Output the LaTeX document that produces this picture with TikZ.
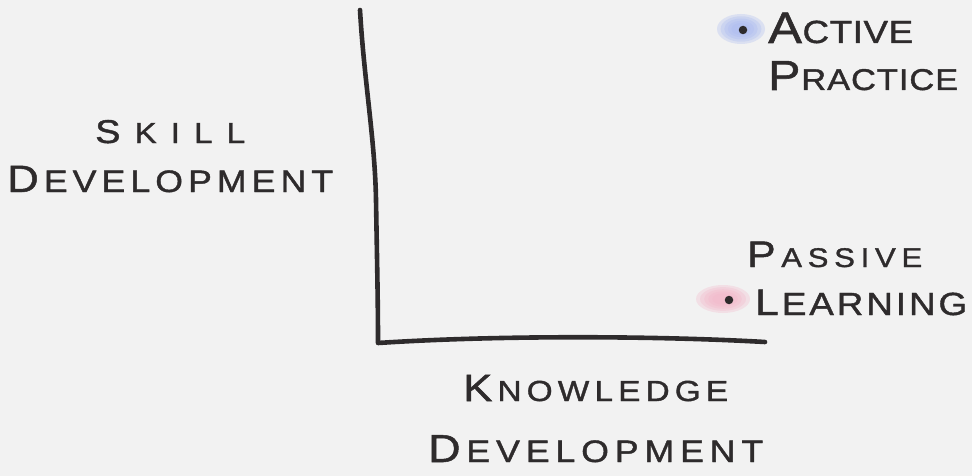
\documentclass[tikz,border=0pt]{standalone}
\usepackage{fontspec}
\setmainfont[FakeStretch=1.15, FakeBold=1.3]{Liberation Sans}
\definecolor{paper}{HTML}{F2F2F2}
\definecolor{marker}{HTML}{2E2B2C}
\definecolor{blueblob}{HTML}{A9B9F0}
\definecolor{pinkblob}{HTML}{F3B5C8}

% A word in hand-lettered small caps: bigger first letter,
% the remaining letters spread out to fill a given width.
\ExplSyntaxOn
\NewDocumentCommand\spreadword{m m m m m}{%
  \makebox[#1][s]{\fontsize{#2}{#2}\selectfont #4
    \fontsize{#3}{#3}\selectfont
    \tl_map_inline:nn {#5}{\hfil ##1}}}
\ExplSyntaxOff

\tikzset{
  axisline/.style={draw=marker, line width=4.6pt, line cap=round, line join=round},
  lettering/.style={anchor=base west, inner sep=0pt, text=marker},
  dotmark/.style={circle, fill=marker, inner sep=0pt, minimum size=8.5pt},
}

\begin{document}
\begin{tikzpicture}[x=1pt, y=-1pt]
  \fill[paper] (0,0) rectangle (972,476);
  \useasboundingbox (0,0) rectangle (972,476);

  % soft highlighter blobs behind the two dots
  \foreach \s in {1.0,0.85,0.7,0.55,0.4} {
    \fill[blueblob, opacity=0.3] (741,29) ellipse ({24*\s} and {15*\s});
    \fill[pinkblob, opacity=0.3] (723,299) ellipse ({27*\s} and {14*\s});
  }

  % axes
  \coordinate (ytop) at (360,10);
  \coordinate (origin) at (378,343);
  \coordinate (xend) at (765,342);
  \path[axisline] (ytop) .. controls (364,80) and (375,140) .. (376,200)
    .. controls (377,260) and (378,300) .. (origin)
    .. controls (500,335) and (660,336) .. (xend);

  % dots
  \node[dotmark] (active) at (743,30) {};
  \node[dotmark] (passive) at (729,300) {};

  % axis titles
  \node[lettering] (skill) at (95,143) {\spreadword{150pt}{33}{29}{S}{KILL}};
  \node[lettering] (skilldev) at (7,192) {\spreadword{326pt}{38}{31}{D}{EVELOPMENT}};
  \node[lettering] (know) at (463,401) {\spreadword{265pt}{38}{29}{K}{NOWLEDGE}};
  \node[lettering] (knowdev) at (428,462) {\spreadword{335pt}{39}{31}{D}{EVELOPMENT}};

  % point labels
  \node[lettering] (activelbl) at (768,43) {\spreadword{145pt}{44}{32}{A}{CTIVE}};
  \node[lettering] (practicelbl) at (768,90) {\spreadword{190pt}{42}{30}{P}{RACTICE}};
  \node[lettering] (passivelbl) at (747,267) {\spreadword{175pt}{37}{27}{P}{ASSIVE}};
  \node[lettering] (learninglbl) at (755,315) {\spreadword{212pt}{37}{32}{L}{EARNING}};
\end{tikzpicture}
\end{document}
